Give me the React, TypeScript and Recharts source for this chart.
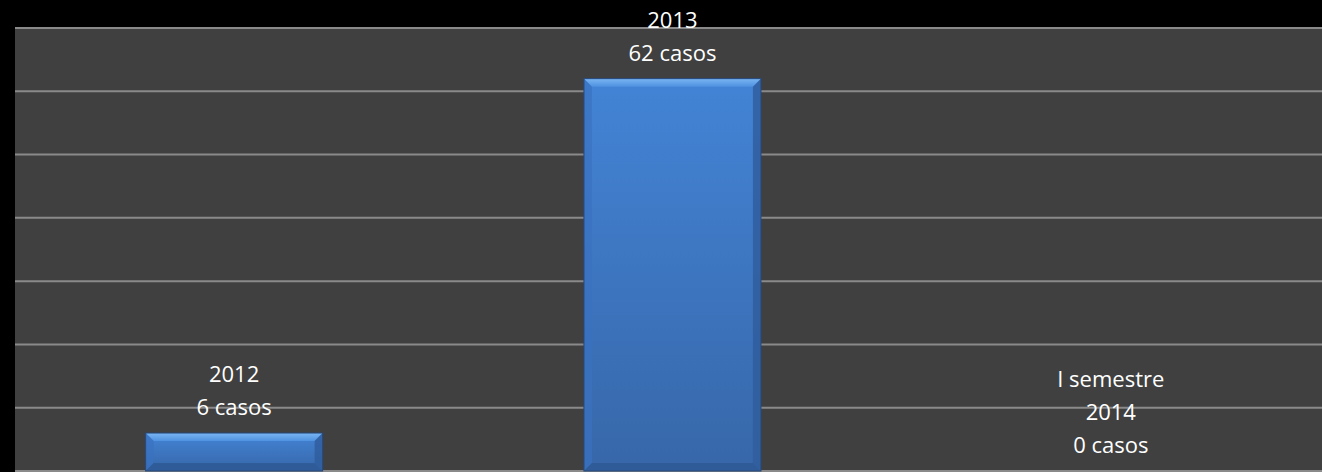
import { BarChart, Bar, XAxis, YAxis, CartesianGrid, LabelList } from "recharts";

const categories = ["2012", "2013", "I semestre 2014"];
const casos = [6, 62, 0];
const labelLines = [["2012"], ["2013"], ["I semestre", "2014"]];
const yTicks = [0, 10, 20, 30, 40, 50, 60, 70];

const data = categories.map((c, i) => ({
  category: c,
  casos: casos[i],
  lines: labelLines[i],
}));

function BevelBar(props: any) {
  const { x, y, width, height } = props;
  if (!height || height <= 0) return null;
  const b = Math.min(8, height / 2, width / 2);
  const r = x + width;
  const bt = y + height;
  return (
    <g>
      <rect x={x} y={y} width={width} height={height} fill="url(#barFace)" />
      {/* top bevel */}
      <polygon
        points={`${x},${y} ${r},${y} ${r - b},${y + b} ${x + b},${y + b}`}
        fill="url(#barTop)"
      />
      {/* left bevel */}
      <polygon
        points={`${x},${y} ${x + b},${y + b} ${x + b},${bt - b} ${x},${bt}`}
        fill="#3a72c0"
        opacity={0.7}
      />
      {/* right bevel */}
      <polygon
        points={`${r},${y} ${r - b},${y + b} ${r - b},${bt - b} ${r},${bt}`}
        fill="#2f5c9c"
        opacity={0.8}
      />
      {/* bottom bevel */}
      <polygon
        points={`${x},${bt} ${x + b},${bt - b} ${r - b},${bt - b} ${r},${bt}`}
        fill="#2d5994"
        opacity={0.8}
      />
      <rect
        x={x}
        y={y}
        width={width}
        height={height}
        fill="none"
        stroke="#27487a"
        strokeWidth={1}
      />
    </g>
  );
}

function CasosLabel(props: any) {
  const { x, y, width, index } = props;
  const row = data[index];
  const lines = [...row.lines, `${row.casos} casos`];
  const cx = x + width / 2;
  const lastBase = y - 18;
  return (
    <text
      textAnchor="middle"
      fill="#ffffff"
      fontSize={22}
      fontFamily="'Open Sans', sans-serif"
    >
      {lines.map((l, i) => (
        <tspan key={i} x={cx} y={lastBase - (lines.length - 1 - i) * 33}>
          {l}
        </tspan>
      ))}
    </text>
  );
}

const noTick = () => <g />;

export default function App() {
  return (
    <div
      style={{
        width: 1322,
        height: 472,
        background: "#000",
        overflow: "hidden",
      }}
    >
      <style>{`body{margin:0;background:#000;}`}</style>
      <BarChart
        width={1330}
        height={472}
        data={data}
        margin={{ top: 28, right: 0, bottom: 1, left: 15 }}
        barCategoryGap="29.8%"
      >
        <defs>
          <linearGradient id="barFace" x1="0" y1="0" x2="0" y2="1">
            <stop offset="0%" stopColor="#4384d6" />
            <stop offset="100%" stopColor="#3767a9" />
          </linearGradient>
          <linearGradient id="barTop" x1="0" y1="0" x2="0" y2="1">
            <stop offset="0%" stopColor="#7ab6f4" />
            <stop offset="100%" stopColor="#4f92e0" />
          </linearGradient>
        </defs>
        <CartesianGrid
          vertical={false}
          fill="#404040"
          fillOpacity={1}
          stroke="#8a8a8a"
          strokeWidth={2}
        />
        <XAxis
          dataKey="category"
          height={0}
          tick={noTick}
          axisLine={false}
          tickLine={false}
        />
        <YAxis
          width={0}
          domain={[0, 70]}
          ticks={yTicks}
          tick={noTick}
          axisLine={false}
          tickLine={false}
        />
        <Bar dataKey="casos" shape={<BevelBar />} isAnimationActive={false}>
          <LabelList dataKey="casos" content={<CasosLabel />} />
        </Bar>
      </BarChart>
    </div>
  );
}
